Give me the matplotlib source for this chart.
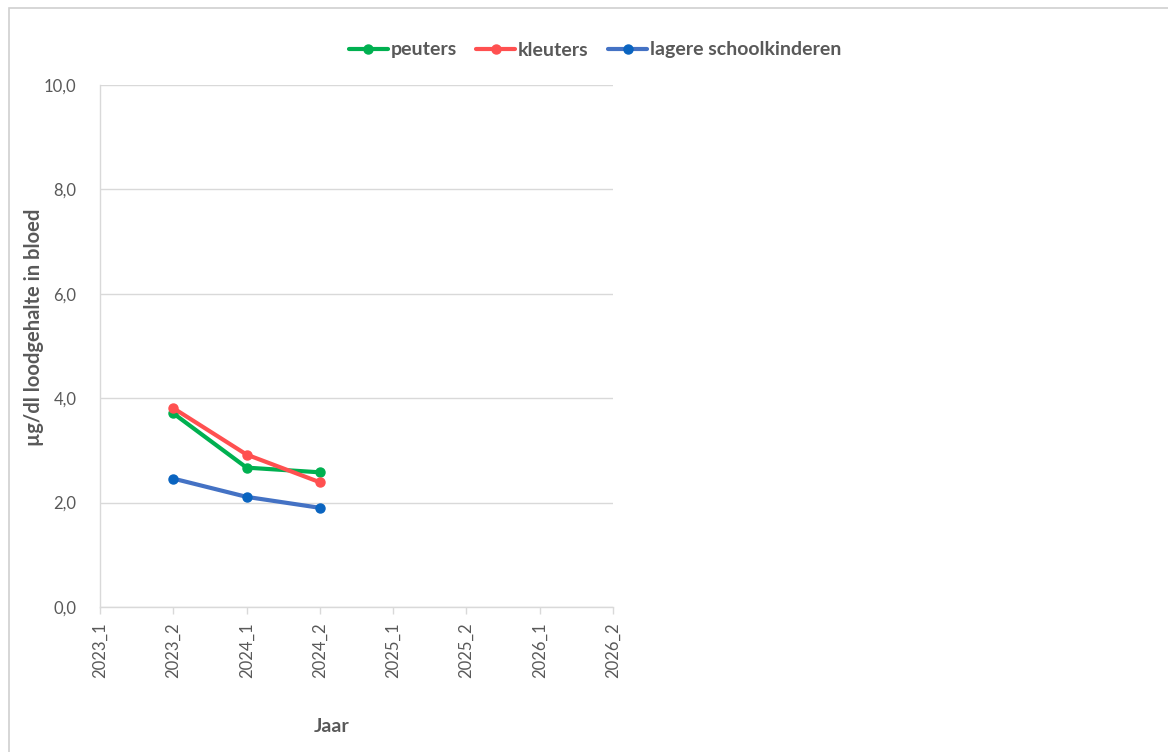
import numpy as np
import matplotlib
matplotlib.use("Agg")
import matplotlib.pyplot as plt
from matplotlib.patches import Rectangle

periods = ["2023_1", "2023_2", "2024_1", "2024_2", "2025_1", "2025_2", "2026_1", "2026_2"]
nan = np.nan
peuters = [nan, 3.71, 2.67, 2.58, nan, nan, nan, nan]
kleuters = [nan, 3.81, 2.92, 2.39, nan, nan, nan, nan]
lagere_schoolkinderen = [nan, 2.46, 2.11, 1.90, nan, nan, nan, nan]
y_ticks = [0, 2, 4, 6, 8, 10]

plt.rcParams["font.family"] = ["Lato", "DejaVu Sans"]
text_gray = "#595959"
grid_gray = "#D9D9D9"

W, H = 1168, 752
fig = plt.figure(figsize=(W / 100, H / 100), dpi=100)

# outer chart border
fig.patches.append(Rectangle((8.5 / W, -0.1), 1.2, 1 - 7.5 / H + 0.1,
                             transform=fig.transFigure, fill=False,
                             edgecolor="#D0D0D0", linewidth=1.2))

ax = fig.add_axes([100 / W, 145 / H, 513 / W, 522 / H])
x = np.arange(len(periods))

series = [
    ("peuters", peuters, "#00B050", "#00B050"),
    ("kleuters", kleuters, "#FF5050", "#FF5050"),
    ("lagere schoolkinderen", lagere_schoolkinderen, "#4472C4", "#0A64C0"),
]
for name, vals, col, mcol in series:
    ax.plot(x, vals, color=col, linewidth=3.0, marker="o", markersize=6.5,
            markerfacecolor=mcol, markeredgecolor=mcol, label=name,
            solid_capstyle="round")

ax.set_xlim(0, len(periods) - 1)
ax.set_ylim(0, 10)
ax.set_xticks(x)
ax.set_xticklabels(periods, rotation=90, fontsize=12, color=text_gray)
ax.set_yticks(y_ticks)
ax.set_yticklabels([f"{v:.1f}".replace(".", ",") for v in y_ticks],
                   fontsize=12, color=text_gray)
ax.tick_params(axis="y", length=0, pad=17)
ax.tick_params(axis="x", length=5, color=grid_gray, width=1, pad=6,
               direction="out")
ax.grid(axis="y", color=grid_gray, linewidth=1)
ax.set_axisbelow(True)
for s in ["top", "right"]:
    ax.spines[s].set_visible(False)
for s in ["left", "bottom"]:
    ax.spines[s].set_color(grid_gray)
    ax.spines[s].set_linewidth(1)

ax.set_ylabel("µg/dl loodgehalte in bloed", fontsize=14.5, fontweight="bold",
              color=text_gray)
ax.yaxis.label.set_va("center")
ax.yaxis.set_label_coords(-(100 - 34) / 513, (607 - 327) / 522)
ax.set_xlabel("Jaar", fontsize=14, fontweight="bold", color=text_gray)
ax.xaxis.label.set_va("center")
ax.xaxis.set_label_coords((332 - 100) / 513, -(726 - 607) / 522)

leg = fig.legend(loc="center", bbox_to_anchor=(595 / W, 1 - 50 / H), ncol=3,
                 frameon=False, handlelength=2.0,
                 handletextpad=0.15, columnspacing=1.0,
                 prop={"weight": "bold", "size": 14})
for t in leg.get_texts():
    t.set_color(text_gray)

fig.savefig("out.png", dpi=100, facecolor="white")
